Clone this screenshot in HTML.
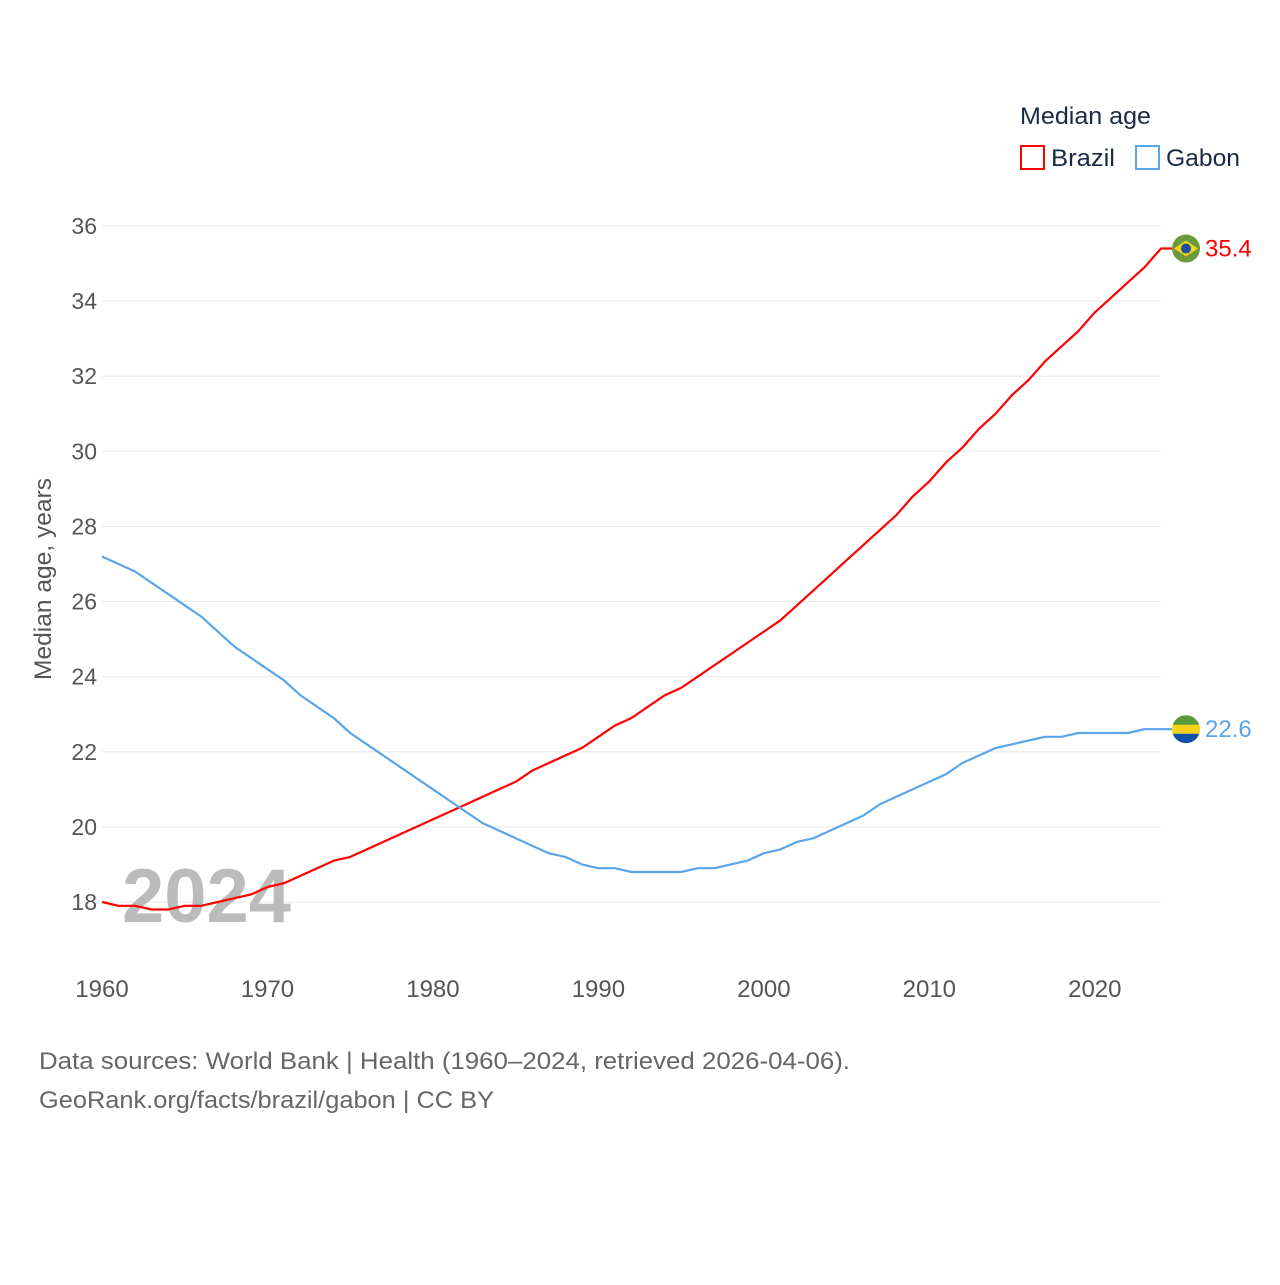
<!DOCTYPE html>
<html><head><meta charset="utf-8"><style>
html,body{margin:0;padding:0;background:#fff;}
body{width:1280px;height:1280px;position:relative;font-family:"Liberation Sans",sans-serif;}
svg text{font-family:"Liberation Sans",sans-serif;}
</style></head><body>
<svg id="chart" width="1280" height="1280" xmlns="http://www.w3.org/2000/svg">
<g id="grid"></g><g id="ticks"></g>
<text transform="translate(51,579) rotate(-90)" text-anchor="middle" font-size="24" fill="#555" textLength="202" lengthAdjust="spacingAndGlyphs">Median age, years</text>
<text x="122" y="922" font-size="76" font-weight="bold" fill="#bbb">2024</text>
<g id="lines"></g>
<g>
<text x="1020" y="124" font-size="24" fill="#1a2a44" textLength="131" lengthAdjust="spacingAndGlyphs">Median age</text>
<rect x="1021" y="146" width="23" height="23" fill="none" stroke="#f00" stroke-width="2"/>
<text x="1051" y="166" font-size="24" fill="#1a2a44" textLength="64" lengthAdjust="spacingAndGlyphs">Brazil</text>
<rect x="1136" y="146" width="23" height="23" fill="none" stroke="#5aa5ea" stroke-width="2"/>
<text x="1166" y="166" font-size="24" fill="#1a2a44" textLength="74" lengthAdjust="spacingAndGlyphs">Gabon</text>
</g>
<text x="39" y="1069" font-size="24" fill="#666" textLength="811" lengthAdjust="spacingAndGlyphs">Data sources: World Bank | Health (1960–2024, retrieved 2026-04-06).</text>
<text x="39" y="1108" font-size="24" fill="#666" textLength="455" lengthAdjust="spacingAndGlyphs">GeoRank.org/facts/brazil/gabon | CC BY</text>
</svg>
<script>
const years=[];for(let y=1960;y<=2024;y++)years.push(y);
const brazil=[18.0,17.9,17.9,17.8,17.8,17.9,17.9,18.0,18.1,18.2,18.4,18.5,18.7,18.9,19.1,19.2,19.4,19.6,19.8,20.0,20.2,20.4,20.6,20.8,21.0,21.2,21.5,21.7,21.9,22.1,22.4,22.7,22.9,23.2,23.5,23.7,24.0,24.3,24.6,24.9,25.2,25.5,25.9,26.3,26.7,27.1,27.5,27.9,28.3,28.8,29.2,29.7,30.1,30.6,31.0,31.5,31.9,32.4,32.8,33.2,33.7,34.1,34.5,34.9,35.4];
const gabon=[27.2,27.0,26.8,26.5,26.2,25.9,25.6,25.2,24.8,24.5,24.2,23.9,23.5,23.2,22.9,22.5,22.2,21.9,21.6,21.3,21.0,20.7,20.4,20.1,19.9,19.7,19.5,19.3,19.2,19.0,18.9,18.9,18.8,18.8,18.8,18.8,18.9,18.9,19.0,19.1,19.3,19.4,19.6,19.7,19.9,20.1,20.3,20.6,20.8,21.0,21.2,21.4,21.7,21.9,22.1,22.2,22.3,22.4,22.4,22.5,22.5,22.5,22.5,22.6,22.6];
const yTicks=[18,20,22,24,26,28,30,32,34,36];
const xTicks=[1960,1970,1980,1990,2000,2010,2020];
const NS='http://www.w3.org/2000/svg';
const X=y=>102+(y-1960)*(1161-102)/64;
const Y=v=>902-(v-18)*(902-226)/18;
function mk(t,a,p){const e=document.createElementNS(NS,t);for(const k in a)e.setAttribute(k,a[k]);p.appendChild(e);return e;}
const g=document.getElementById('grid'),tk=document.getElementById('ticks'),ln=document.getElementById('lines');
yTicks.forEach(v=>{
 const l=mk('line',{x1:102,x2:1161,y1:Y(v),y2:Y(v),stroke:'#e8e8e8','stroke-width':1},g);
 
 
 const t=mk('text',{x:97,y:Y(v)+8,'text-anchor':'end','font-size':23,fill:'#555'},tk);t.textContent=v;
 
 
});
xTicks.forEach(v=>{
 const t=mk('text',{x:X(v),y:997,'text-anchor':'middle','font-size':24,fill:'#555'},tk);t.textContent=v;
 
 
});
function series(vals,color,name){
 const last=vals[vals.length-1];
 let d=vals.map((v,i)=>(i?'L':'M')+X(years[i]).toFixed(1)+' '+Y(v).toFixed(1)).join(' ');
 d+=' L1172 '+Y(last).toFixed(1);
 const p=mk('path',{d:d,fill:'none',stroke:color,'stroke-width':2.2,'stroke-linejoin':'round'},ln);
 
 
 const t=mk('text',{x:1205,y:Y(last)+8,'font-size':24,fill:color},ln);t.textContent=last.toFixed(1);
 
 
 return Y(last);
}
const yb=series(brazil,'#f00','brazil');
const yg=series(gabon,'#5aa5ea','gabon');
const fb=mk('g',{},ln);


mk('circle',{cx:1186,cy:yb,r:14,fill:'#6a9a3c'},fb);
mk('polygon',{points:`1174,${yb} 1186,${yb-8} 1198,${yb} 1186,${yb+8}`,fill:'#f2d21a'},fb);
mk('circle',{cx:1186,cy:yb,r:5,fill:'#1f4fa0'},fb);
const fg=mk('g',{},ln);


mk('clipPath',{id:'gc'},fg);
mk('circle',{cx:1186,cy:yg,r:14},fg.lastChild);
mk('rect',{x:1172,y:yg-14,width:28,height:10,fill:'#5a9a3c','clip-path':'url(#gc)'},fg);
mk('rect',{x:1172,y:yg-4.5,width:28,height:9,fill:'#f5d21a','clip-path':'url(#gc)'},fg);
mk('rect',{x:1172,y:yg+4.5,width:28,height:10,fill:'#1450a8','clip-path':'url(#gc)'},fg);
</script>
</body></html>
